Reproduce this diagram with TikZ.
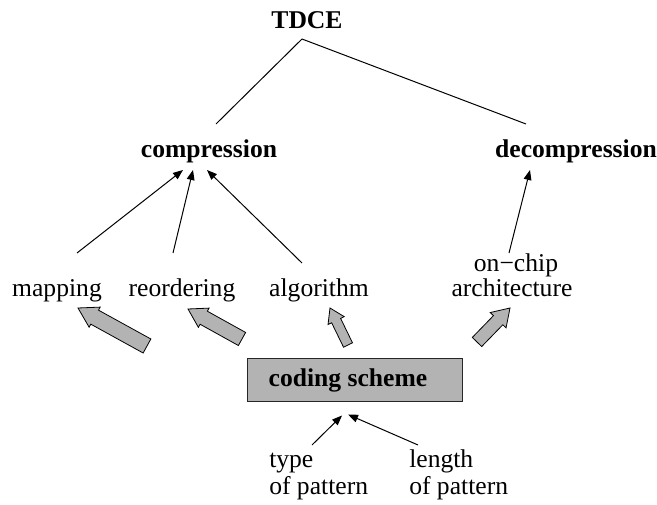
\documentclass[tikz,border=0pt]{standalone}
\usepackage{fontspec}
\setmainfont{Liberation Serif}
\usetikzlibrary{calc,arrows.meta}

\definecolor{boxgray}{RGB}{179,179,179}

\tikzset{
  lbl/.style={font=\fontsize{19.2pt}{23pt}\selectfont, inner sep=0pt, anchor=base},
  head/.style={lbl, font=\fontsize{19.2pt}{23pt}\selectfont\bfseries},
  lblw/.style={lbl, anchor=base west},
  link/.style={line width=0.75pt},
  dep/.style={line width=0.75pt, -{Triangle[length=7.5pt,width=5.8pt]}},
  codebox/.style={draw=black!85, line width=0.75pt, fill=boxgray,
    minimum width=161.25pt, minimum height=32.25pt, inner sep=0pt,
    font=\fontsize{19.2pt}{23pt}\selectfont\bfseries},
  fatarr/.style={draw=black, line width=0.6pt, fill=boxgray, line join=miter}
}

% broad block arrow: tail, tip, shaft half-width, head half-width, head length, id
\newcommand\fatarrow[6]{%
  \coordinate (#6-hb) at ($(#2)!#5!(#1)$);
  \draw[fatarr] ($(#1)!#3!90:(#2)$) -- ($(#6-hb)!#3!90:(#2)$)
    -- ($(#6-hb)!#4!90:(#2)$) -- (#2) -- ($(#6-hb)!#4!-90:(#2)$)
    -- ($(#6-hb)!#3!-90:(#2)$) -- ($(#1)!#3!-90:(#2)$) -- cycle;}

\begin{document}
\begin{tikzpicture}[x=0.75pt, y=-0.75pt]
  \useasboundingbox (0,0) rectangle (657,505);

  % top levels
  \node[head] (tdce)   at (307,29)  {TDCE};
  \node[head] (comp)   at (209,158) {compression};
  \node[head] (decomp) at (576,158) {decompression};

  % aspects of the scheme
  \node[lbl] (map)    at (57,297)  {mapping};
  \node[lbl] (reord)  at (182,297) {reordering};
  \node[lbl] (algo)   at (319,297) {algorithm};
  \node[lbl] (onchip) at (516,272) {on−chip};
  \node[lbl] (arch)   at (512,297) {architecture};

  % coding scheme block
  \node[codebox] (code) at (354.5,380.5) {\hspace*{-9.75pt}coding scheme};

  % inputs to the coding scheme
  \node[lblw] (type)   at (269,468) {type};
  \node[lblw] (typeof) at (269,495) {of pattern};
  \node[lblw] (len)    at (409,468) {length};
  \node[lblw] (lenof)  at (409,495) {of pattern};

  % tree lines below TDCE
  \draw[link] ($(tdce.base)+(-5,10)$) -- ($(comp.base)+(7,-34)$);
  \draw[link] ($(tdce.base)+(-5,10)$) -- ($(decomp.base)+(-50,-34)$);

  % thin arrows to compression / decompression
  \draw[dep] ($(map.base)+(20,-44)$)   -- ($(comp.base)+(-26,12)$);
  \draw[dep] ($(reord.base)+(-9,-44)$) -- ($(comp.base)+(-16,12)$);
  \draw[dep] ($(algo.base)+(-17,-34)$) -- ($(comp.base)+(-2,12)$);
  \draw[dep] ($(onchip.base)+(-7,-19)$) -- ($(decomp.base)+(-46,12)$);

  % thin arrows into the coding scheme
  \draw[dep] ($(type.base west)+(43,-23)$) -- ($(code.south)+(-12.5,13)$);
  \draw[dep] ($(len.base west)+(9,-23)$)   -- ($(code.south)+(-6.5,12)$);

  % broad arrows from the coding scheme
  \coordinate (mapT)   at (147,346);
  \coordinate (mapH)   at (78,308);
  \coordinate (reordT) at (242,339);
  \coordinate (reordH) at (188,309);
  \coordinate (algoT)  at (348,345);
  \coordinate (algoH)  at (330,308);
  \coordinate (archT)  at (477,342);
  \coordinate (archH)  at (510,308);
  \fatarrow{mapT}{mapH}{6pt}{8.6pt}{14.25pt}{fa}
  \fatarrow{reordT}{reordH}{5.6pt}{8.25pt}{13.5pt}{fb}
  \fatarrow{algoT}{algoH}{3.75pt}{6.75pt}{10.5pt}{fc}
  \fatarrow{archT}{archH}{4.9pt}{8.25pt}{12.75pt}{fd}
\end{tikzpicture}
\end{document}
